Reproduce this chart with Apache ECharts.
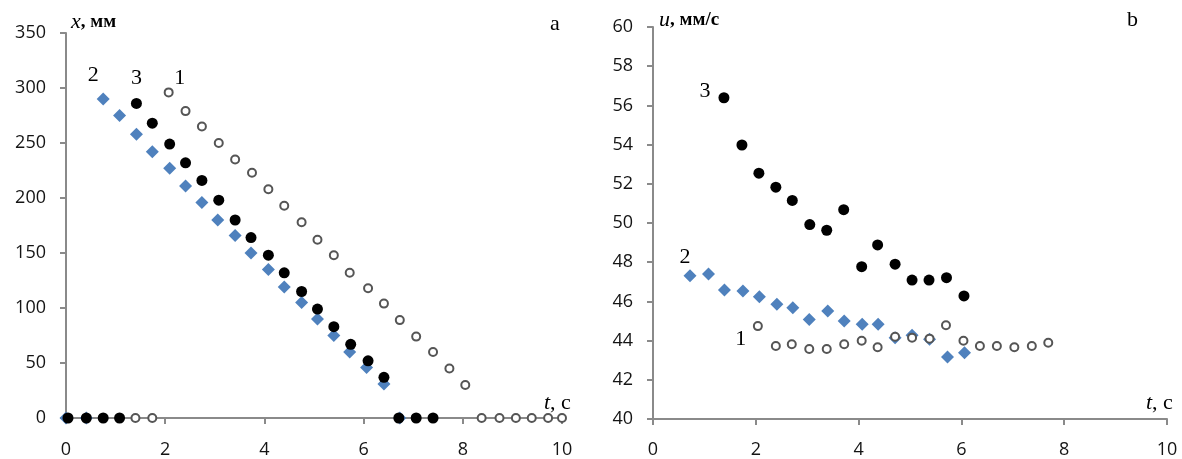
<!DOCTYPE html>
<html>
<head>
<meta charset="utf-8">
<script src="https://cdn.jsdelivr.net/npm/echarts@6/dist/echarts.min.js"></script>
<style>html,body{margin:0;padding:0;background:#fff}#c{width:1182px;height:459px}</style>
</head>
<body>
<div id="c"></div>
<script>
// ---- Panel a: x (mm) vs t (s) ----
const a_s1_t = [1.40, 1.74, 2.07, 2.41, 2.74, 3.08, 3.41, 3.75, 4.08, 4.40, 4.75, 5.07, 5.40, 5.72, 6.09, 6.41, 6.73, 7.06, 7.40, 7.73, 8.05, 8.38, 8.74, 9.07, 9.39, 9.72, 10.0];
const a_s1_x = [0, 0, 296, 279, 265, 250, 235, 223, 208, 193, 178, 162, 148, 132, 118, 104, 89, 74, 60, 45, 30, 0, 0, 0, 0, 0, 0];
const a_s2_t = [0.0, 0.41, 0.75, 1.08, 1.42, 1.74, 2.09, 2.41, 2.74, 3.06, 3.41, 3.73, 4.08, 4.40, 4.75, 5.07, 5.40, 5.72, 6.06, 6.41, 6.73];
const a_s2_x = [0, 0, 290, 275, 258, 242, 227, 211, 196, 180, 166, 150, 135, 119, 105, 90, 75, 60, 46, 31, 0];
const a_s3_t = [0.04, 0.41, 0.75, 1.08, 1.42, 1.74, 2.09, 2.41, 2.74, 3.08, 3.41, 3.73, 4.08, 4.40, 4.75, 5.07, 5.40, 5.74, 6.09, 6.41, 6.71, 7.06, 7.40];
const a_s3_x = [0, 0, 0, 0, 286, 268, 249, 232, 216, 198, 180, 164, 148, 132, 115, 99, 83, 67, 52, 37, 0, 0, 0];

// ---- Panel b: u (mm/s) vs t (s) ----
const b_s1_t = [2.04, 2.39, 2.70, 3.04, 3.38, 3.72, 4.06, 4.37, 4.71, 5.04, 5.38, 5.70, 6.04, 6.36, 6.69, 7.03, 7.37, 7.69];
const b_s1_u = [44.74, 43.72, 43.81, 43.57, 43.57, 43.81, 43.99, 43.66, 44.20, 44.15, 44.10, 44.78, 43.99, 43.72, 43.72, 43.66, 43.72, 43.89];
const b_s2_t = [0.72, 1.08, 1.39, 1.75, 2.07, 2.41, 2.72, 3.04, 3.40, 3.72, 4.07, 4.38, 4.71, 5.04, 5.38, 5.73, 6.06];
const b_s2_u = [47.31, 47.40, 46.58, 46.53, 46.24, 45.85, 45.68, 45.08, 45.51, 45.00, 44.83, 44.83, 44.15, 44.27, 44.07, 43.16, 43.38];
const b_s3_t = [1.38, 1.73, 2.06, 2.39, 2.71, 3.05, 3.38, 3.71, 4.06, 4.37, 4.71, 5.04, 5.37, 5.71, 6.05];
const b_s3_u = [56.39, 53.98, 52.54, 51.83, 51.15, 49.92, 49.63, 50.68, 47.77, 48.88, 47.90, 47.09, 47.09, 47.21, 46.28];

const xTicks = [0, 2, 4, 6, 8, 10];
const yTicksA = [0, 50, 100, 150, 200, 250, 300, 350];
const yTicksB = [40, 42, 44, 46, 48, 50, 52, 54, 56, 58, 60];

const BLUE = '#4F81BD';
const labelFont = {fontFamily: 'Liberation Serif', fontSize: 22, color: '#000'};

function pts(ts, vs, labelIdx, labelText, labelOffset) {
  return ts.map((t, i) => {
    const d = {value: [t, vs[i]]};
    if (i === labelIdx) {
      d.label = Object.assign({show: true, formatter: labelText, position: 'inside', offset: labelOffset}, labelFont);
    }
    return d;
  });
}

const AXC = '#8a8a8a';
const TXT = '#141414';
function axisX(gi, margin) {
  return {
    type: 'value', gridIndex: gi, min: xTicks[0], max: xTicks[xTicks.length - 1], interval: 2,
    axisLine: {show: true, onZero: false, lineStyle: {color: AXC, width: 2}},
    axisTick: {show: true, inside: false, length: 6, lineStyle: {color: AXC, width: 2}},
    axisLabel: {margin: margin, fontFamily: 'Open Sans', fontSize: 18, color: TXT},
    splitLine: {show: false}
  };
}
function axisY(gi, ticks, iv) {
  return {
    type: 'value', gridIndex: gi, min: ticks[0], max: ticks[ticks.length - 1], interval: iv,
    axisLine: {show: true, onZero: false, lineStyle: {color: AXC, width: 2}},
    axisTick: {show: true, inside: false, length: 6, lineStyle: {color: AXC, width: 2}},
    axisLabel: {margin: 20, fontFamily: 'Open Sans', fontSize: 18, color: TXT},
    splitLine: {show: false}
  };
}

const openStyle = {symbol: 'circle', symbolSize: 8, itemStyle: {color: '#fff', borderColor: '#555', borderWidth: 2, opacity: 1}};
const blueStyle = {symbol: 'diamond', symbolSize: 13, itemStyle: {color: BLUE, opacity: 1}};
const blackStyle = {symbol: 'circle', symbolSize: 11, itemStyle: {color: '#000', opacity: 1}};

const nameRich = {
  i: {fontFamily: 'Liberation Serif', fontStyle: 'italic', fontSize: 22, fill: '#000'},
  n: {fontFamily: 'Liberation Serif', fontWeight: 'bold', fontSize: 19, fill: '#000'},
  c: {fontFamily: 'Liberation Serif', fontSize: 22, fill: '#000'}
};

const chart = echarts.init(document.getElementById('c'), null, {renderer: 'canvas'});
chart.setOption({
  animation: false,
  backgroundColor: '#fff',
  grid: [
    {left: 66, right: 620, top: 33, bottom: 35, containLabel: false},
    {left: 653, right: 15, top: 27, bottom: 40, containLabel: false}
  ],
  xAxis: [axisX(0, 23), axisX(1, 22)],
  yAxis: [axisY(0, yTicksA, 50), axisY(1, yTicksB, 2)],
  series: [
    Object.assign({type: 'scatter', xAxisIndex: 0, yAxisIndex: 0, clip: false, data: pts(a_s2_t, a_s2_x, 2, '2', [-10, -24])}, blueStyle),
    Object.assign({type: 'scatter', xAxisIndex: 0, yAxisIndex: 0, clip: false, data: pts(a_s3_t, a_s3_x, 4, '3', [0, -25])}, blackStyle),
    Object.assign({type: 'scatter', xAxisIndex: 0, yAxisIndex: 0, clip: false, data: pts(a_s1_t, a_s1_x, 2, '1', [11, -14])}, openStyle),
    Object.assign({type: 'scatter', xAxisIndex: 1, yAxisIndex: 1, clip: false, data: pts(b_s2_t, b_s2_u, 0, '2', [-5, -19])}, blueStyle),
    Object.assign({type: 'scatter', xAxisIndex: 1, yAxisIndex: 1, clip: false, data: pts(b_s3_t, b_s3_u, 0, '3', [-19, -7])}, blackStyle),
    Object.assign({type: 'scatter', xAxisIndex: 1, yAxisIndex: 1, clip: false, data: pts(b_s1_t, b_s1_u, 0, '1', [-17, 13])}, openStyle)
  ],
  graphic: [
    {type: 'text', left: 71, top: 11, style: {text: '{i|x}{n|, мм}', rich: nameRich}},
    {type: 'text', left: 544, top: 392, style: {text: '{i|t}{c|, с}', rich: nameRich}},
    {type: 'text', left: 550, top: 13, style: {text: 'a', fontFamily: 'Liberation Serif', fontSize: 22, fill: '#000'}},
    {type: 'text', left: 659, top: 9, style: {text: '{i|u}{n|, мм/с}', rich: nameRich}},
    {type: 'text', left: 1146, top: 392, style: {text: '{i|t}{c|, с}', rich: nameRich}},
    {type: 'text', left: 1127, top: 9, style: {text: 'b', fontFamily: 'Liberation Serif', fontSize: 22, fill: '#000'}}
  ]
});
</script>
</body>
</html>
